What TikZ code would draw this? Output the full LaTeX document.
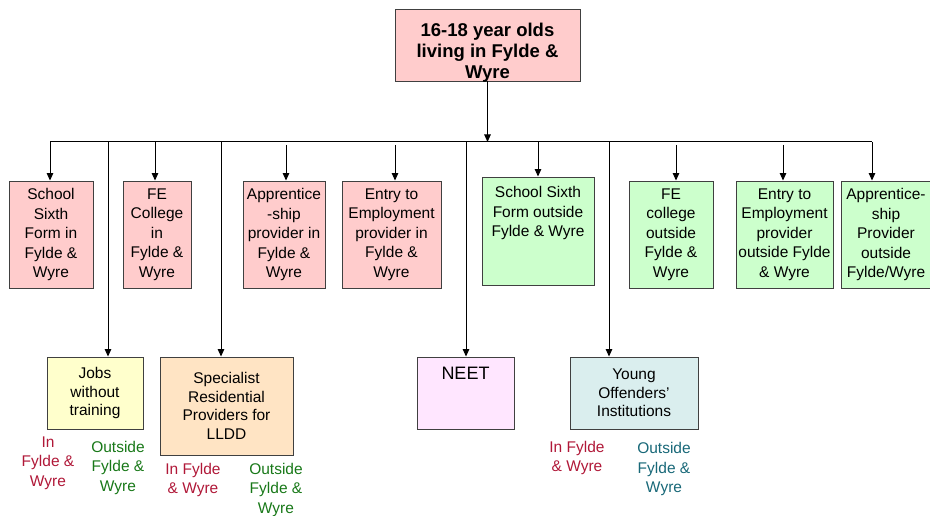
\documentclass[tikz,border=0pt]{standalone}
\usepackage{fontspec}
\setmainfont{Liberation Sans}
\usetikzlibrary{arrows.meta}
\definecolor{boxline}{RGB}{64,64,64}
\definecolor{pinkfill}{RGB}{255,204,204}
\definecolor{greenfill}{RGB}{204,255,204}
\definecolor{yellowfill}{RGB}{255,255,204}
\definecolor{peachfill}{RGB}{255,228,196}
\definecolor{lilacfill}{RGB}{255,230,255}
\definecolor{cyanfill}{RGB}{218,238,238}
\definecolor{labred}{RGB}{176,24,56}
\definecolor{labgreen}{RGB}{24,120,24}
\definecolor{labteal}{RGB}{24,104,120}
\begin{document}
\begin{tikzpicture}[x=1pt,y=-1pt,
  box/.style={draw=boxline, line width=0.9pt, inner sep=0pt, align=center,
    font=\fontsize{15.5}{19.5}\selectfont},
  lowbox/.style={box, font=\fontsize{15.5}{18.5}\selectfont},
  titletxt/.style={inner sep=0pt, align=center,
    font=\fontsize{18.5}{21}\selectfont\bfseries},
  lab/.style={inner sep=0pt, align=center,
    font=\fontsize{15.5}{19.5}\selectfont},
  conn/.style={line width=1pt, draw=black},
  arr/.style={conn, -{Triangle[length=7.5pt,width=6.5pt]}}]
\useasboundingbox (0,0) rectangle (930,516);

% top box
\node[box, fill=pinkfill, minimum width=185pt, minimum height=72pt,
  label={[titletxt, yshift=-8pt]center:{16-18 year olds\\living in Fylde \&\\Wyre}}]
  (top) at (487.5,45) {};

% top row
\node[box, fill=pinkfill, minimum width=84pt, minimum height=107pt] (s1) at (51,234.5)
  {School\\Sixth\\Form in\\Fylde \&\\Wyre};
\node[box, fill=pinkfill, minimum width=68pt, minimum height=107pt] (s2) at (157,234.5)
  {FE\\College\\in\\Fylde \&\\Wyre};
\node[box, fill=pinkfill, minimum width=82pt, minimum height=107pt] (s3) at (284,234.5)
  {Apprentice\\-ship\\provider in\\Fylde \&\\Wyre};
\node[box, fill=pinkfill, minimum width=99pt, minimum height=107pt] (s4) at (391.5,234.5)
  {Entry to\\Employment\\provider in\\Fylde \&\\Wyre};
\node[box, fill=greenfill, minimum width=112pt, minimum height=108pt] (s5) at (538,231)
  {School Sixth\\Form outside\\Fylde \& Wyre\\~\\~};
\node[box, fill=greenfill, minimum width=84pt, minimum height=107pt] (s6) at (671,234.5)
  {FE\\college\\outside\\Fylde \&\\Wyre};
\node[box, fill=greenfill, minimum width=97pt, minimum height=107pt] (s7) at (784.5,234.5)
  {Entry to\\Employment\\provider\\outside Fylde\\\& Wyre};
\node[box, fill=greenfill, minimum width=89pt, minimum height=107pt] (s8) at (886,234.5)
  {Apprentice-\\ship\\Provider\\outside\\Fylde/Wyre};

% lower row
\node[lowbox, fill=yellowfill, minimum width=96pt, minimum height=72pt] (jobs) at (95,393)
  {Jobs\\without\\training};
\node[lowbox, fill=peachfill, minimum width=133pt, minimum height=98pt] (spec) at (226.5,406)
  {Specialist\\Residential\\Providers for\\LLDD};
\node[lowbox, fill=lilacfill, minimum width=97pt, minimum height=72pt,
  font=\fontsize{18}{20}\selectfont] (neet) at (465.5,393)
  {NEET\\~\\~};
\node[lowbox, fill=cyanfill, minimum width=128pt, minimum height=72pt] (yoi) at (634,393)
  {Young\\Offenders’\\Institutions};

% labels
\node[lab, text=labred] (jin) at (48,463) {In\\Fylde \&\\Wyre};
\node[lab, text=labgreen] (jout) at (118,467.5) {Outside\\Fylde \&\\Wyre};
\node[lab, text=labred] (spin) at (193,480) {In Fylde\\\& Wyre};
\node[lab, text=labgreen] (spout) at (276,489.5) {Outside\\Fylde \&\\Wyre};
\node[lab, text=labred] (yin) at (577,458) {In Fylde\\\& Wyre};
\node[lab, text=labteal] (yout) at (664,469) {Outside\\Fylde \&\\Wyre};

% bar coordinates
\coordinate (c1) at (50,142);
\coordinate (c2) at (155,142);
\coordinate (c3) at (286,145);
\coordinate (c4) at (395,145);
\coordinate (c5) at (538,142);
\coordinate (c6) at (676,145);
\coordinate (c7) at (783,145);
\coordinate (c8) at (872,142);
\coordinate (d1) at (108,142);
\coordinate (d2) at (221,142);
\coordinate (d3) at (466,142);
\coordinate (d4) at (609,142);

\draw[conn] (c1) -- (c8);
\draw[arr] (top.south) -- (top.south |- c1);

\draw[arr] (c1) -- (c1 |- s1.north);
\draw[arr] (c2) -- (c2 |- s2.north);
\draw[arr] (c3) -- (c3 |- s3.north);
\draw[arr] (c4) -- (c4 |- s4.north);
\draw[arr] (c5) -- (c5 |- s5.north);
\draw[arr] (c6) -- (c6 |- s6.north);
\draw[arr] (c7) -- (c7 |- s7.north);
\draw[arr] (c8) -- (c8 |- s8.north);

\draw[arr] (d1) -- (d1 |- jobs.north);
\draw[arr] (d2) -- (d2 |- spec.north);
\draw[arr] (d3) -- (d3 |- neet.north);
\draw[arr] (d4) -- (d4 |- yoi.north);
\end{tikzpicture}
\end{document}
